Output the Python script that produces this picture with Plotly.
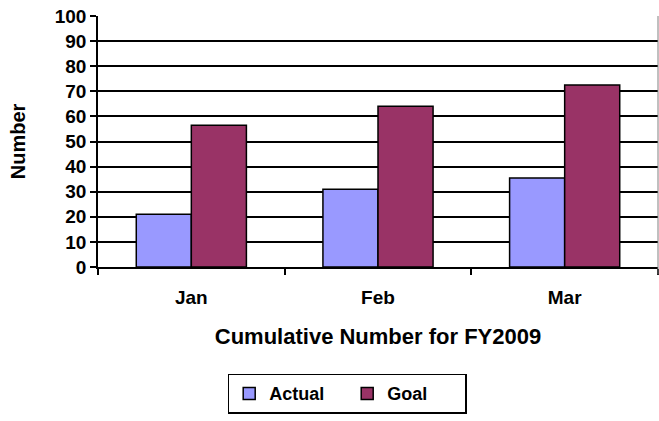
import plotly.graph_objects as go

months = ["Jan", "Feb", "Mar"]
actual = [21, 31, 35.5]
goal = [56.5, 64, 72.5]

font_b = "Liberation Sans"

fig = go.Figure()
fig.add_trace(go.Bar(x=months, y=actual, name="Actual",
                     marker=dict(color="#9999FF", line=dict(color="black", width=1.5))))
fig.add_trace(go.Bar(x=months, y=goal, name="Goal",
                     marker=dict(color="#993366", line=dict(color="black", width=1.5))))

fig.update_layout(
    width=659, height=421,
    margin=dict(l=98, r=1, t=16, b=154),
    plot_bgcolor="white", paper_bgcolor="white",
    barmode="group", bargap=0.41, bargroupgap=0,
    font=dict(family=font_b, color="black", size=19),
    legend=dict(orientation="h", x=0.445, xanchor="center", y=-0.425, yanchor="top",
                bordercolor="black", borderwidth=1.5,
                font=dict(size=18, family=font_b, weight="bold"),
                itemwidth=30, entrywidth=73, tracegroupgap=0),
)
# thin grey right border of the plot area
fig.add_shape(type="line", xref="paper", yref="paper", x0=1, x1=1, y0=-0.03, y1=1,
              line=dict(color="#808080", width=1))
fig.update_xaxes(
    showline=True, linecolor="black", linewidth=1.5,
    ticks="outside", tickson="boundaries", ticklen=6, tickcolor="black", tickwidth=1.5,
    tickfont=dict(size=19, weight="bold"), ticklabelstandoff=12,
    title=dict(text="Cumulative Number for FY2009", font=dict(size=22, weight="bold"), standoff=22),
)
fig.update_yaxes(
    range=[0, 100], dtick=10,
    showline=True, linecolor="black", linewidth=1.5,
    showgrid=True, gridcolor="black", gridwidth=1.5,
    ticks="outside", ticklen=6, tickcolor="black", tickwidth=1.5,
    tickfont=dict(size=19, weight="bold"), zeroline=False,
    title=dict(text="Number", font=dict(size=20, weight="bold"), standoff=24),
)

fig.write_html("out.html", config={"responsive": False, "displayModeBar": False},
               post_script="document.body.style.margin='0';")
